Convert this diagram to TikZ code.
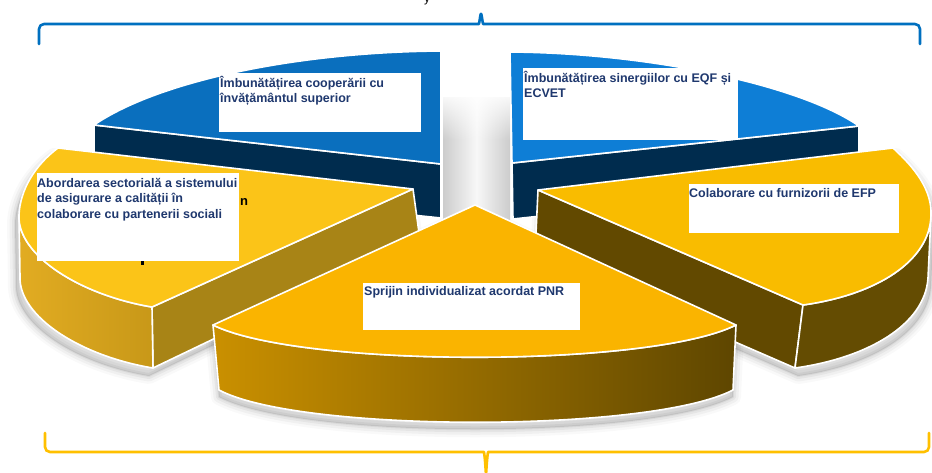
\documentclass[tikz,border=0pt]{standalone}
\usepackage{fontspec}
\setmainfont{Liberation Sans}
\usetikzlibrary{fadings}
\definecolor{blueA}{RGB}{10,111,190}
\definecolor{blueB}{RGB}{14,126,214}
\definecolor{navy}{RGB}{0,44,78}
\definecolor{yelC}{RGB}{251,196,24}
\definecolor{yelD}{RGB}{249,188,0}
\definecolor{yelE}{RGB}{250,180,0}
\definecolor{oliveC}{RGB}{168,132,22}
\definecolor{outerCl}{RGB}{226,172,34}
\definecolor{outerCr}{RGB}{200,152,24}
\definecolor{brownD}{RGB}{98,73,0}
\definecolor{outerD}{RGB}{100,76,2}
\definecolor{sideEl}{RGB}{202,144,0}
\definecolor{sideEr}{RGB}{94,70,0}
\definecolor{txtblue}{RGB}{31,56,110}
\definecolor{brkblue}{RGB}{0,112,192}
\definecolor{brkgold}{RGB}{255,192,0}
\tikzset{
  face/.style={draw=white, line width=1.6pt, line join=round},
  lbl/.style={anchor=base west, inner sep=0pt, align=left, text=txtblue,
              font=\bfseries\fontsize{12.5}{15.75}\selectfont},
  lblbox/.style={fill=white},
  brace/.style={line width=2.6pt, line cap=round, line join=round, rounded corners=5pt},
}
\newcommand\softshadow[1]{%
  \foreach \w/\o in {16/0.025,11/0.035,6/0.045,2/0.05}{%
    \draw[black, line width=\w pt, opacity=\o, line join=round] #1;}%
  \fill[black, opacity=0.10] #1;}
\begin{document}
\begin{tikzpicture}[x=1pt,y=-1pt]
\useasboundingbox (0,0) rectangle (932,472);
\fill[white] (0,0) rectangle (932,472);

% soft shadows
\begin{scope}[shift={(-4,8)}]
  \softshadow{(413,189) -- (58,148) .. controls (35,165) and (20,190) .. (19,215) -- (20,276) .. controls (18,316) and (80,356) .. (153,368) -- (420,240) -- cycle}
\end{scope}
\begin{scope}[shift={(0,7)}]
  \softshadow{(475,205) -- (213,325) -- (219,390) .. controls (300,433) and (650,433) .. (733,390) -- (736,325) -- cycle}
\end{scope}
\begin{scope}[shift={(3,8)}]
  \softshadow{(538,190) -- (893,148) .. controls (915,168) and (932,190) .. (931,215) -- (928,278) .. controls (925,325) and (867,358) .. (795,368) -- (535,255) -- cycle}
\end{scope}

% central column
\shade[left color=gray!40, right color=gray!40, middle color=gray!6] (443,97) rectangle (510,226);
\fill[white, path fading=south] (440,90) rectangle (513,140);

% slice A (top left, blue)
\path[face, fill=navy] (94,125) -- (441,164) -- (441,218) -- (94,182) -- cycle;
\path[face, fill=blueA] (441,51) .. controls (300,52) and (160,80) .. (94,125) -- (441,164) -- cycle;

% slice B (top right, blue)
\path[face, fill=navy] (512,163) -- (859,126) -- (859,182) -- (513,219) -- cycle;
\path[face, fill=blueB] (510,52) .. controls (650,53) and (800,85) .. (859,126) -- (512,163) -- cycle;

% slice C (left, yellow)
\path[face, fill=oliveC] (152,307) -- (413,189) -- (420,240) -- (153,368) -- cycle;
\path[face, left color=outerCl, right color=outerCr] (19,215) .. controls (17,255) and (80,295) .. (152,307) -- (153,368) .. controls (80,356) and (18,316) .. (20,276) -- cycle;
\path[face, fill=yelC] (413,189) -- (58,148) .. controls (35,165) and (20,190) .. (19,215) .. controls (17,255) and (80,295) .. (152,307) -- cycle;

% slice D (right, yellow)
\path[face, fill=brownD] (538,190) -- (803,305) -- (795,368) -- (535,255) -- cycle;
\path[face, fill=outerD] (931,215) .. controls (930,262) and (875,295) .. (803,305) -- (795,368) .. controls (867,358) and (925,325) .. (928,278) -- cycle;
\path[face, fill=yelD] (538,190) -- (893,148) .. controls (915,168) and (932,190) .. (931,215) .. controls (930,262) and (875,295) .. (803,305) -- cycle;

% slice E (front, yellow)
\path[face, left color=sideEl, right color=sideEr] (213,325) .. controls (300,368) and (650,368) .. (736,325) -- (733,390) .. controls (650,433) and (300,433) .. (219,390) -- cycle;
\path[face, fill=yelE] (475,205) -- (213,325) .. controls (300,368) and (650,368) .. (736,325) -- cycle;

% hidden-text fragments
\node[anchor=base west, inner sep=0pt, font=\bfseries\fontsize{13}{13}\selectfont] (fragn) at (240,205) {n};
\fill[black] (141,261) rectangle (143.5,265);
\node[anchor=base west, inner sep=0pt, font=\fontsize{12}{12}\selectfont] (fragy) at (424,2.5) {y};

% label boxes
\fill[lblbox] (219,73) rectangle (421,132);
\fill[lblbox] (523,68) rectangle (738,140);
\fill[lblbox] (37,173) rectangle (239,261);
\fill[lblbox] (689,184) rectangle (899,233);
\fill[lblbox] (363,283) rectangle (580,330);

% labels (anchor = baseline of the last line)
\node[lbl] (tA) at (220,102.75) {Îmbunătățirea cooperării cu\\învățământul superior};
\node[lbl] (tB) at (524,97.75) {Îmbunătățirea sinergiilor cu EQF și\\ECVET};
\node[lbl] (tC) at (37,218.5) {Abordarea sectorială a sistemului\\de asigurare a calității în\\colaborare cu partenerii sociali};
\node[lbl] (tD) at (689,197) {Colaborare cu furnizorii de EFP};
\node[lbl] (tE) at (364,295) {Sprijin individualizat acordat PNR};

% brackets
\draw[brace, brkblue] (39,44) -- (39,24) -- (474,24) .. controls (479,24) and (480,18) .. (481,11) .. controls (482,18) and (483,24) .. (488,24) -- (920,24) -- (920,44);
\draw[brace, brkgold] (45,433) -- (45,452) -- (479,452) .. controls (484,452) and (485,458) .. (486,476) .. controls (487,458) and (488,452) .. (493,452) -- (929,452) -- (929,433);
\end{tikzpicture}
\end{document}
